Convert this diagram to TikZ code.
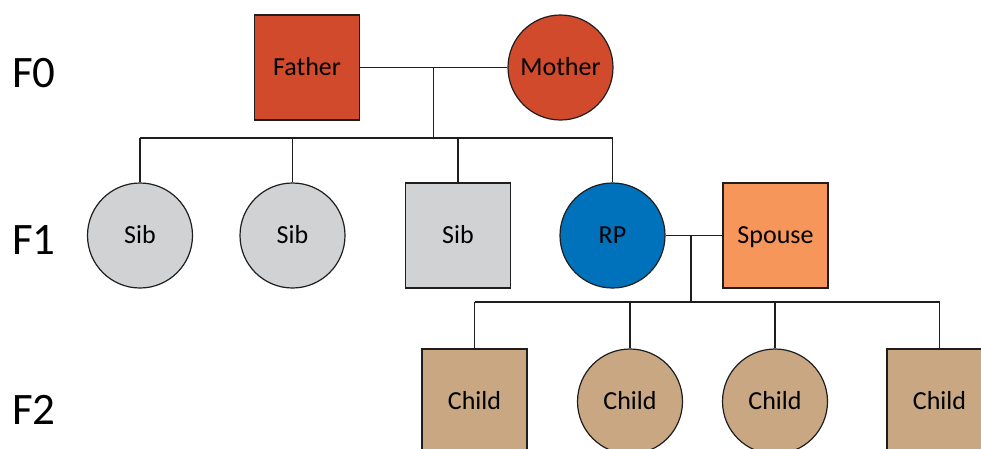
\documentclass[tikz,border=0pt]{standalone}
\usepackage{fontspec}
\setmainfont{Carlito}
\usetikzlibrary{calc}
\definecolor{linec}{RGB}{30,30,30}
\definecolor{parentred}{RGB}{208,74,43}
\definecolor{sibgray}{RGB}{209,210,212}
\definecolor{rpblue}{RGB}{0,114,187}
\definecolor{spouseorange}{RGB}{247,150,90}
\definecolor{childtan}{RGB}{200,167,130}
\newcommand\nodefont{\fontsize{26}{31}\selectfont}
\newcommand\genfont{\fontsize{45}{54}\selectfont}
\tikzset{%
  % Specifications for style of nodes:
	base/.style = {draw=linec, line width=1.2pt, align=center, inner sep=0pt,
	               text height=16.7pt, text depth=0pt, font=\nodefont},
	male/.style = {base, rectangle, minimum size=105pt},
	female/.style = {base, circle, minimum size=105pt},
	gen/.style = {anchor=base west, inner sep=0pt, font=\genfont},
	norm/.style={draw, linec, line width=1.2pt},
}
\begin{document}
\begin{tikzpicture}[
    x=1pt, y=-1pt,              % pixel grid of the reference
]
  \useasboundingbox (0,0) rectangle (981,448);
  \clip (0,0) rectangle (981,448);

  % Generation labels
  \node (f0) [gen] at (12,87)  {F0};
  \node (f1) [gen] at (12,254) {F1};
  \node (f2) [gen] at (12,424) {F2};

  % F0
  \node (father) [male, fill=parentred]   at (307,67.5)   {Father};
  \node (mother) [female, fill=parentred] at (560.5,67.5) {Mother};

  % F1
  \node (sib1)   [female, fill=sibgray] at (140,235.5) {Sib};
  \node (sib2)   [female, fill=sibgray] at (292.5,235.5) {Sib};
  \node (sib3)   [male, fill=sibgray]   at (458,235.5) {Sib};
  \node (rp)     [female, fill=rpblue]  at (612.5,235.5) {RP};
  \node (spouse) [male, fill=spouseorange] at (775.5,235.5) {Spouse};

  % F2
  \node (child1) [male, fill=childtan]   at (474.5,401.5) {Child};
  \node (child2) [female, fill=childtan] at (630,401.5) {Child};
  \node (child3) [female, fill=childtan] at (775,401.5) {Child};
  \node (child4) [male, fill=childtan]   at (939.5,401.5) {Child};

  % Couples and sibships
  \coordinate (parents) at ($(father.east)!0.5!(mother.west)$);
  \coordinate (sibbar) at (433,138);
  \coordinate (couple) at (691,235.5);
  \coordinate (kidbar) at (691,302);

  \draw [norm] (father) -- (mother);
  \draw [norm] (parents) -- (parents |- sibbar);
  \draw [norm] (sib1.north |- sibbar) -- (rp.north |- sibbar);
  \foreach \n in {sib1,sib2,sib3,rp}
    \draw [norm] (\n.north) -- (\n.north |- sibbar);

  \draw [norm] (rp) -- (spouse);
  \draw [norm] (couple) -- (kidbar);
  \draw [norm] (child1.north |- kidbar) -- (child4.north |- kidbar);
  \foreach \n in {child1,child2,child3,child4}
    \draw [norm] (\n.north) -- (\n.north |- kidbar);
\end{tikzpicture}
\end{document}
